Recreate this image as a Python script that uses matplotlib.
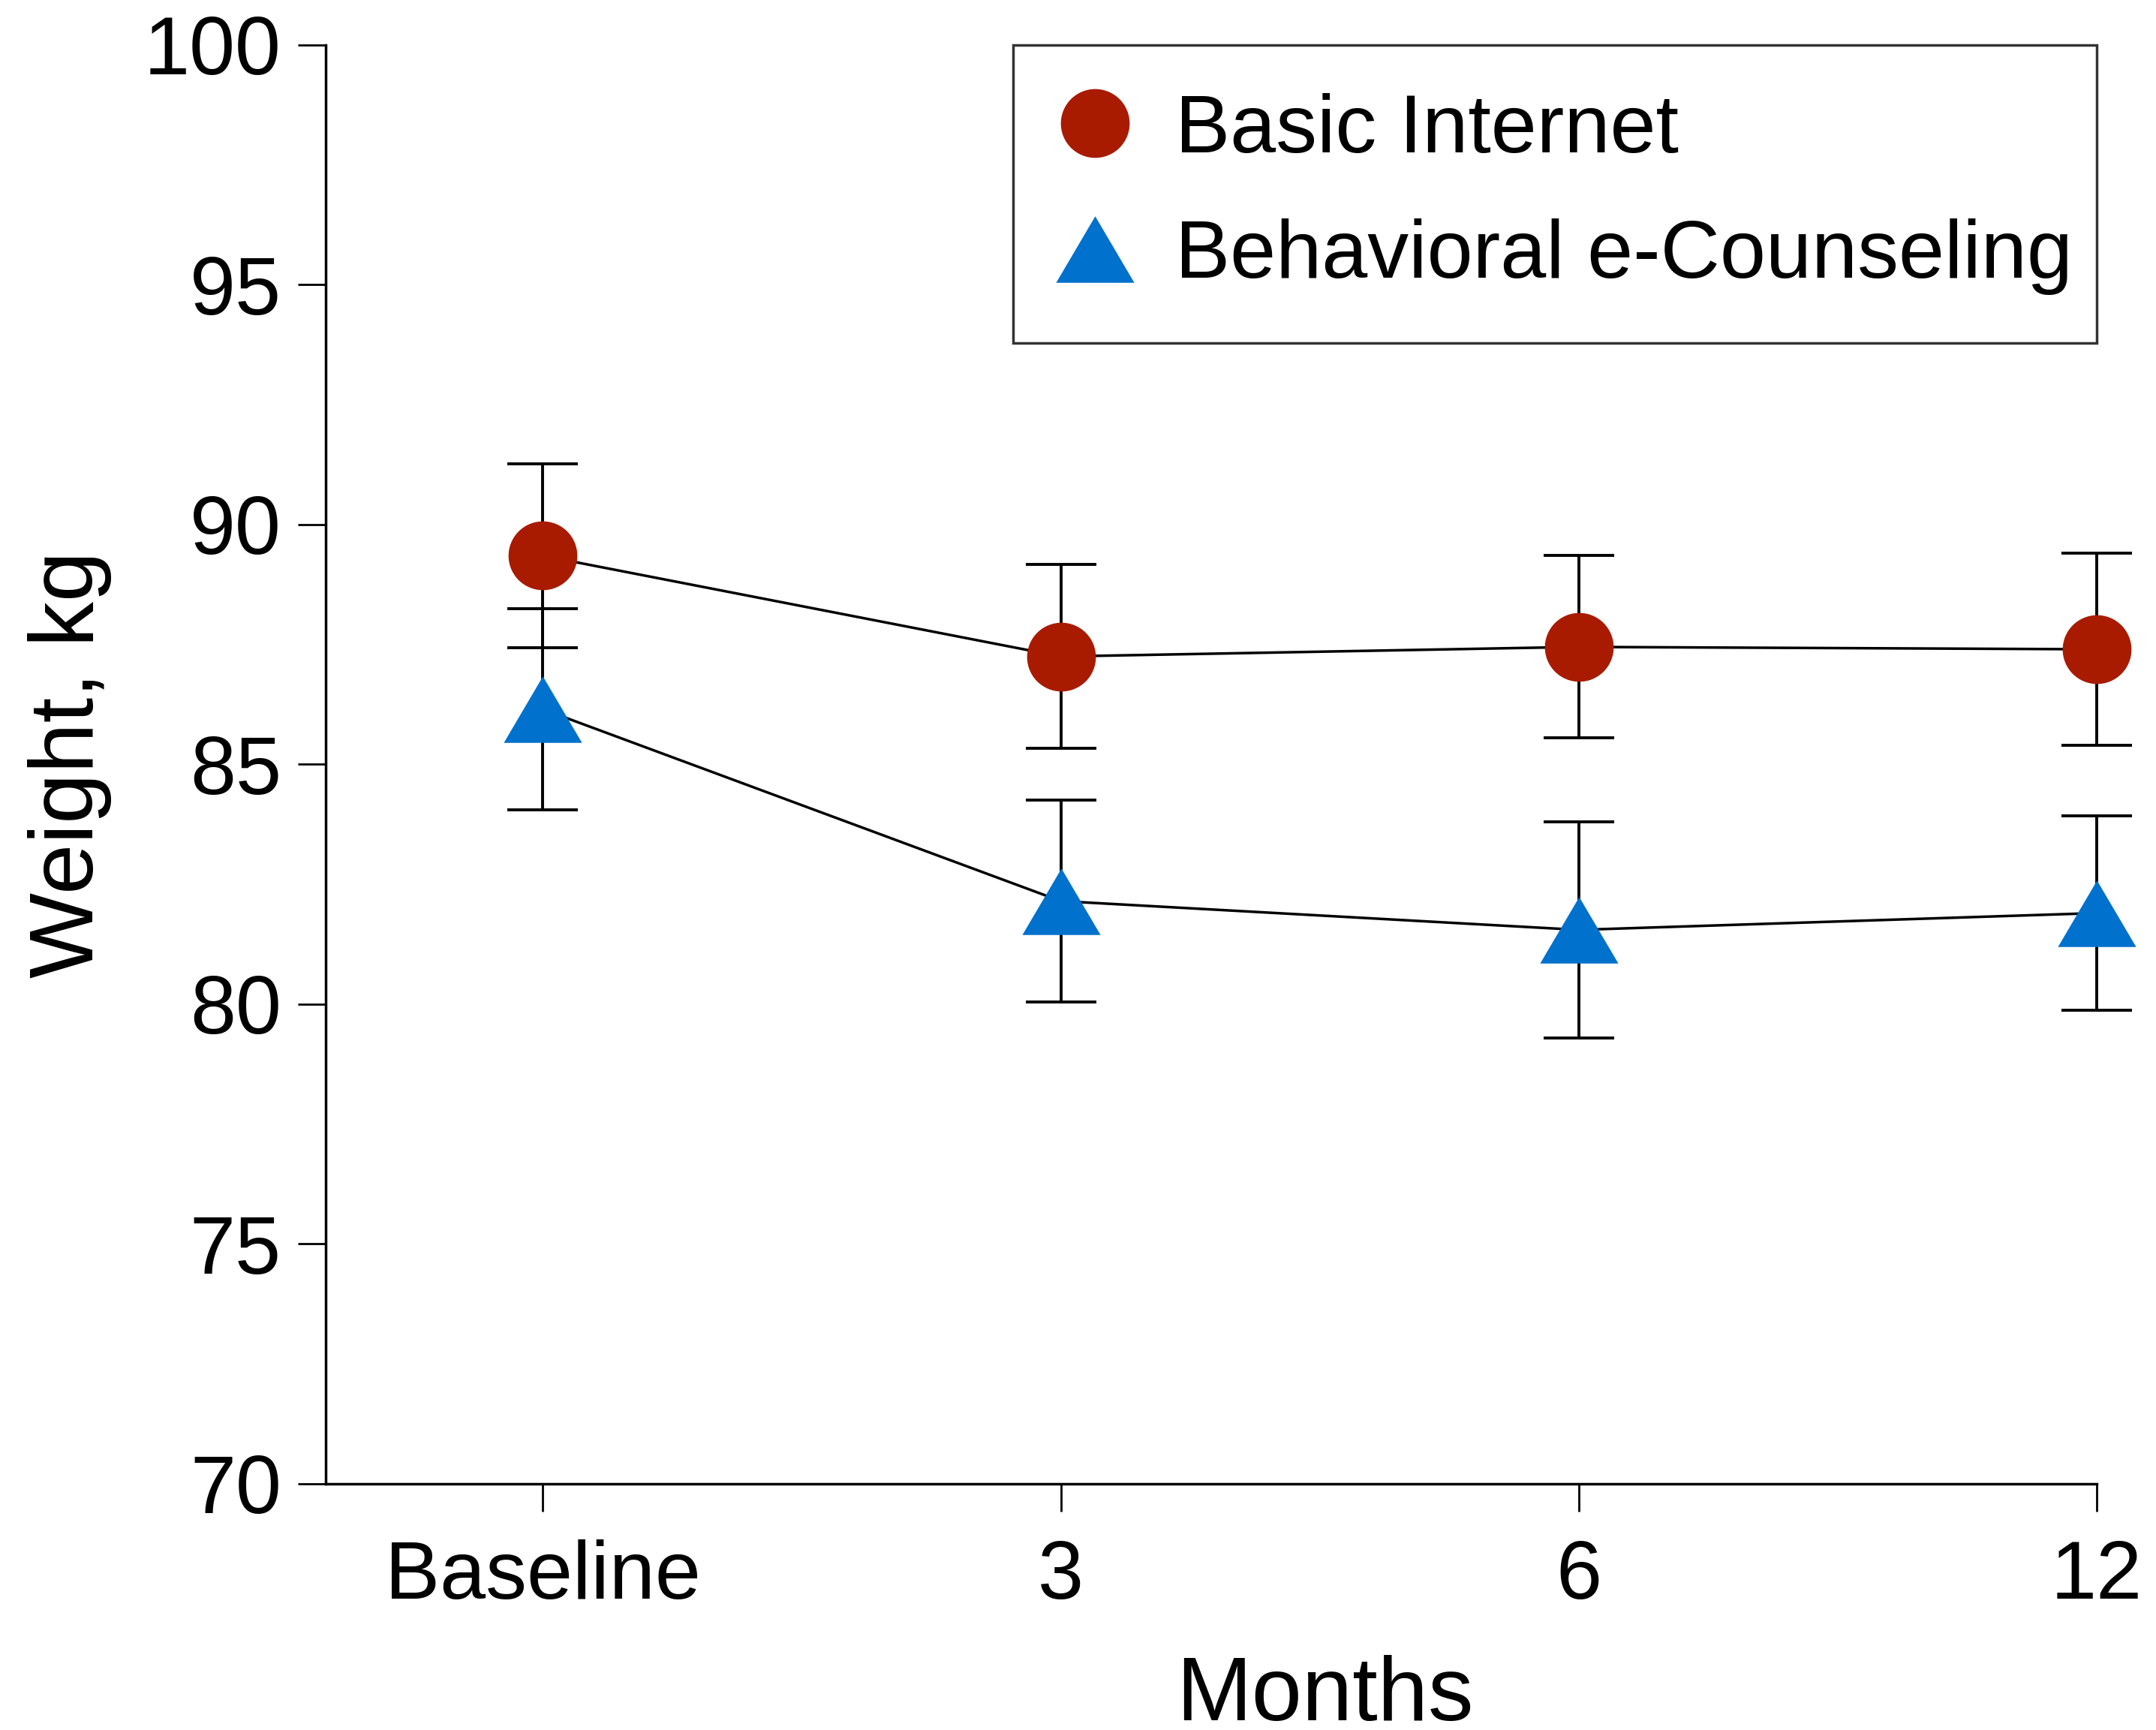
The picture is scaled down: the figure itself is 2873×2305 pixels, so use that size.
import matplotlib
matplotlib.use("Agg")
import matplotlib.pyplot as plt
from matplotlib.lines import Line2D

plt.rcParams['font.family'] = ['Liberation Sans', 'DejaVu Sans']

# Data
timepoints = ["Baseline", "3", "6", "12"]
basic_mean = [89.35, 87.25, 87.45, 87.40]
basic_err = [1.92, 1.92, 1.90, 2.00]
behav_mean = [86.15, 82.15, 81.55, 81.90]
behav_err = [2.10, 2.10, 2.25, 2.03]
y_ticks = [70, 75, 80, 85, 90, 95, 100]

RED = '#a81b00'
BLUE = '#0071cc'

fig = plt.figure(figsize=(28.73, 23.05), dpi=100)
ax = fig.add_axes([0.1511, 0.1423, 0.8214, 0.8317])

x = list(range(len(timepoints)))

for mean, err in ((basic_mean, basic_err), (behav_mean, behav_err)):
    ax.errorbar(x, mean, yerr=err, fmt='none', ecolor='black', elinewidth=2.8,
                capsize=34, capthick=2.8, zorder=2, clip_on=False)
    ax.plot(x, mean, color='black', lw=2.5, zorder=3, clip_on=False)

tri = [(0, 0.85), (-1, -0.85), (1, -0.85)]
ax.plot(x, basic_mean, linestyle='none', marker='o', markersize=66,
        color=RED, markeredgewidth=0, zorder=4, clip_on=False)
ax.plot(x, behav_mean, linestyle='none', marker=tri, markersize=75,
        color=BLUE, markeredgewidth=0, zorder=4, clip_on=False)

ax.set_xlim(-0.419, 3.0)
ax.set_ylim(70, 100)
ax.set_xticks(x)
ax.set_xticklabels(timepoints)
ax.set_yticks(y_ticks)

for s in ('top', 'right'):
    ax.spines[s].set_visible(False)
for s in ('left', 'bottom'):
    ax.spines[s].set_linewidth(2.5)

ax.tick_params(axis='both', direction='out', length=26.6, width=2,
               labelsize=79, colors='black')
ax.tick_params(axis='y', pad=16)
ax.tick_params(axis='x', pad=27)

ax.set_xlabel('Months', fontsize=87, va='baseline')
ax.xaxis.set_label_coords(0.564, -0.1643)
ax.set_ylabel('Weight, kg', fontsize=87, va='center', ha='center')
ax.yaxis.set_label_coords(-0.1447, 0.5)

handles = [
    Line2D([], [], linestyle='none', marker='o', markersize=66, color=RED,
           markeredgewidth=0),
    Line2D([], [], linestyle='none', marker=tri, markersize=75, color=BLUE,
           markeredgewidth=0),
]
leg = ax.legend(handles, ['Basic Internet', 'Behavioral e-Counseling'],
                loc='upper left', bbox_to_anchor=(0.388, 0.0, 0.612, 1.0),
                mode='expand', borderaxespad=0, fontsize=79, frameon=True,
                fancybox=False, borderpad=0.58, handlelength=0.84,
                handletextpad=0.55, labelspacing=0.60)
leg.get_frame().set_edgecolor('black')
leg.get_frame().set_linewidth(2.5)

fig.savefig('out.png', dpi=100)
